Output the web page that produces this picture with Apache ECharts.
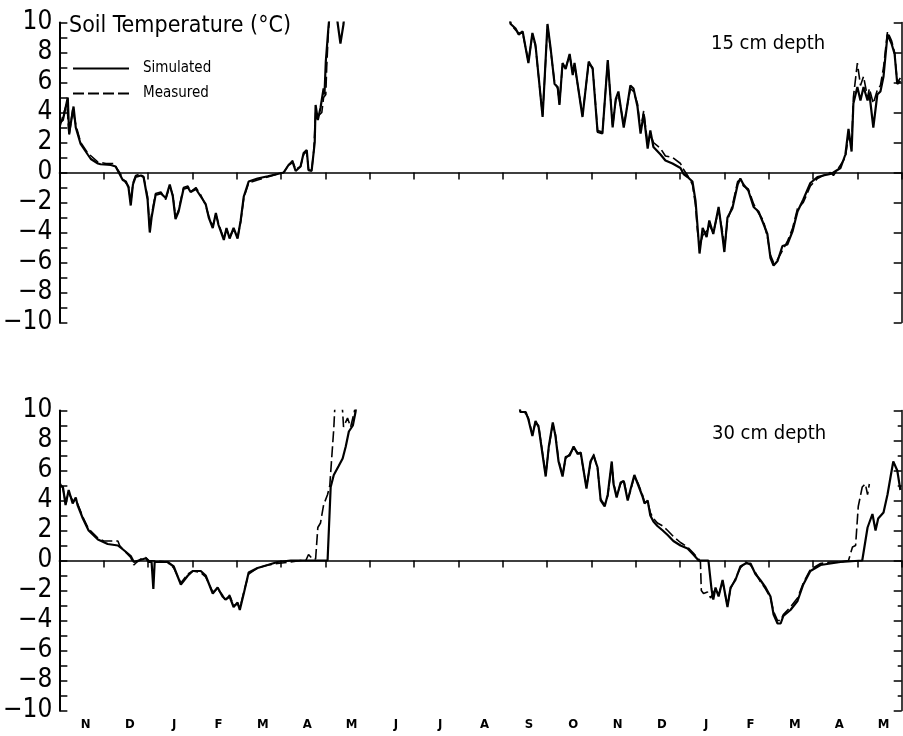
<!DOCTYPE html>
<html>
<head>
<meta charset="utf-8">
<script src="https://cdn.jsdelivr.net/npm/echarts@6/dist/echarts.min.js"></script>
<style>html,body{margin:0;padding:0;background:#fff}#c{width:903px;height:736px}</style>
</head>
<body>
<div id="c"></div>
<script>
// x values are months counted from 1 November of the first winter
const monthLabels = ['N','D','J','F','M','A','M','J','J','A','S','O','N','D','J','F','M','A','M'];
const yTicks = [-10,-8,-6,-4,-2,0,2,4,6,8,10];

// 15 cm depth – simulated
const sim15X = [0.01,0.08,0.19,0.22,0.32,0.37,0.48,0.64,0.71,0.87,0.93,1.16,1.27,1.34,1.43,1.50,1.56,1.61,1.66,1.72,1.84,1.90,1.99,2.04,2.08,2.17,2.29,2.40,2.49,2.56,2.62,2.69,2.80,2.90,2.96,3.08,3.19,3.30,3.37,3.46,3.53,3.59,3.71,3.77,3.84,3.93,4.02,4.09,4.16,4.27,4.47,4.70,4.92,5.06,5.17,5.26,5.33,5.44,5.51,5.58,5.62,5.69,5.71,5.76,5.78,5.83,5.89,5.96,5.98,6.01,6.07,6.10,6.17,6.25,6.28,6.34,6.41,6.43,6.50,10.14,10.18,10.29,10.36,10.45,10.58,10.67,10.74,10.90,10.97,11.01,11.08,11.17,11.24,11.28,11.35,11.42,11.51,11.58,11.62,11.80,11.94,12.03,12.14,12.25,12.37,12.48,12.55,12.61,12.73,12.77,12.88,12.95,13.04,13.11,13.18,13.27,13.33,13.40,13.56,13.67,13.83,14.01,14.08,14.17,14.28,14.35,14.39,14.44,14.51,14.60,14.66,14.75,14.87,14.96,15.00,15.07,15.18,15.30,15.36,15.43,15.54,15.66,15.77,15.88,15.97,16.04,16.11,16.20,16.31,16.42,16.54,16.65,16.78,16.94,17.10,17.23,17.39,17.46,17.62,17.73,17.80,17.87,17.91,18.00,18.07,18.14,18.23,18.27,18.36,18.45,18.52,18.59,18.68,18.77,18.84,18.90,18.97];
const sim15Y = [3.3,3.5,5.0,2.6,4.4,3.0,1.9,1.2,0.9,0.6,0.55,0.5,0.4,0.0,-0.5,-0.6,-1.0,-2.2,-0.8,-0.3,-0.2,-0.3,-1.8,-4.0,-3.0,-1.5,-1.4,-1.7,-0.8,-1.6,-3.1,-2.6,-1.1,-1.0,-1.3,-1.1,-1.6,-2.1,-3.0,-3.7,-2.7,-3.5,-4.5,-3.7,-4.4,-3.7,-4.4,-3.2,-1.6,-0.6,-0.4,-0.25,-0.1,0.0,0.5,0.7,0.1,0.4,1.3,1.5,0.15,0.1,0.0,2.0,4.5,3.5,4.3,5.6,5.2,7.4,9.7,10.6,null,10.6,9.9,8.6,9.9,10.6,null,10.6,9.9,9.6,9.2,9.4,7.3,9.3,8.5,3.7,7.6,9.9,8.3,5.9,5.7,4.5,7.3,6.9,7.9,6.5,7.3,3.7,7.4,6.9,2.7,2.6,7.5,3.0,4.9,5.4,3.0,3.7,5.8,5.6,4.4,2.6,3.9,1.6,2.8,1.7,1.2,0.8,0.6,0.3,-0.1,-0.3,-0.6,-1.9,-3.4,-5.4,-3.7,-4.3,-3.2,-4.1,-2.3,-4.3,-5.3,-3.0,-2.4,-0.8,-0.4,-0.8,-1.2,-2.3,-2.6,-3.4,-4.1,-5.7,-6.2,-5.9,-4.9,-4.8,-3.9,-2.6,-1.8,-0.7,-0.3,-0.2,-0.1,0.0,0.3,1.2,2.9,1.4,4.6,5.7,4.8,5.7,4.8,5.3,3.0,5.2,5.4,6.4,9.2,8.6,7.9,5.9,6.1];

// 15 cm depth – measured
const meas15X = [0.01,0.08,0.17,0.22,0.30,0.37,0.48,0.64,0.87,1.05,1.16,1.23,1.29,1.36,1.43,1.50,1.56,1.61,1.66,1.72,1.84,1.90,1.99,2.04,2.08,2.17,2.29,2.40,2.49,2.56,2.62,2.69,2.80,2.90,2.96,3.08,3.19,3.30,3.37,3.46,3.53,3.59,3.71,3.77,3.84,3.93,4.02,4.09,4.16,4.27,4.47,4.70,4.92,5.06,5.17,5.26,5.33,5.44,5.51,5.58,5.62,5.69,5.74,5.78,5.85,5.92,5.96,6.01,6.03,6.07,6.10,6.17,10.14,10.18,10.29,10.36,10.45,10.58,10.67,10.74,10.90,10.97,11.01,11.08,11.17,11.24,11.28,11.35,11.42,11.51,11.58,11.62,11.80,11.94,12.03,12.14,12.25,12.37,12.48,12.55,12.61,12.73,12.77,12.88,12.95,13.04,13.11,13.18,13.27,13.33,13.40,13.56,13.67,13.83,14.01,14.08,14.17,14.28,14.35,14.39,14.44,14.51,14.60,14.66,14.75,14.87,14.96,15.00,15.07,15.18,15.30,15.36,15.43,15.54,15.66,15.77,15.88,15.97,16.04,16.11,16.20,16.31,16.42,16.54,16.65,16.78,16.94,17.10,17.23,17.39,17.46,17.62,17.73,17.80,17.87,17.91,18.00,18.07,18.14,18.23,18.27,18.36,18.45,18.52,18.59,18.68,18.77,18.84,18.90,18.97];
const meas15Y = [3.0,3.8,4.6,2.4,4.2,3.2,2.0,1.3,0.7,0.6,0.6,0.6,0.3,0.0,-0.4,-0.7,-0.9,-2.0,-0.7,-0.2,-0.1,-0.3,-1.6,-3.8,-2.8,-1.4,-1.3,-1.8,-0.9,-1.5,-3.0,-2.5,-1.0,-0.9,-1.3,-1.0,-1.5,-2.2,-2.9,-3.6,-2.8,-3.4,-4.4,-3.8,-4.3,-3.8,-4.3,-3.3,-1.7,-0.7,-0.5,-0.3,-0.1,0.0,0.5,0.8,0.2,0.4,1.2,1.4,0.2,0.1,1.5,4.0,3.8,4.0,5.0,5.2,7.0,9.5,10.6,null,10.6,9.9,9.5,9.3,9.3,7.4,9.2,8.4,3.8,7.5,9.8,8.2,6.0,5.6,4.6,7.2,7.0,7.8,6.6,7.2,3.8,7.3,7.0,2.8,2.7,7.4,3.1,4.8,5.2,3.2,3.8,5.6,5.4,4.6,2.8,4.1,1.9,2.6,2.0,1.6,1.1,1.0,0.6,0.2,-0.2,-0.8,-2.2,-3.8,-5.0,-4.2,-3.9,-3.5,-4.0,-2.5,-4.0,-5.1,-3.2,-2.2,-0.6,-0.5,-0.9,-1.1,-2.1,-2.7,-3.2,-4.3,-5.5,-6.0,-5.8,-5.2,-4.6,-3.7,-2.4,-2.0,-0.9,-0.4,-0.2,0.0,-0.2,0.5,1.0,2.5,1.8,5.0,7.3,5.8,6.4,5.0,5.6,4.6,5.5,5.8,7.0,9.4,8.8,8.0,6.0,6.3];

// 30 cm depth – simulated
const sim30X = [0.01,0.08,0.14,0.21,0.30,0.37,0.41,0.53,0.66,0.87,1.09,1.32,1.45,1.61,1.68,1.79,1.95,2.02,2.08,2.12,2.15,2.44,2.58,2.74,2.90,3.01,3.19,3.30,3.46,3.57,3.68,3.75,3.84,3.93,4.02,4.07,4.16,4.27,4.47,4.70,4.92,5.22,6.05,6.12,6.19,6.30,6.39,6.46,6.53,6.62,6.68,6.71,6.80,10.36,10.40,10.52,10.58,10.67,10.74,10.81,10.97,11.04,11.13,11.19,11.26,11.35,11.42,11.51,11.60,11.69,11.76,11.89,11.98,12.05,12.14,12.21,12.30,12.37,12.46,12.50,12.57,12.66,12.73,12.82,12.88,12.97,13.06,13.15,13.20,13.27,13.33,13.40,13.49,13.61,13.72,13.85,14.01,14.17,14.30,14.42,14.64,14.71,14.75,14.80,14.87,14.96,15.07,15.14,15.25,15.36,15.48,15.59,15.70,15.81,15.93,16.04,16.11,16.20,16.27,16.33,16.49,16.65,16.78,16.94,17.17,17.39,17.62,18.11,18.14,18.23,18.34,18.41,18.47,18.59,18.68,18.75,18.81,18.90,18.97];
const sim30Y = [5.0,4.9,3.7,4.7,3.8,4.2,3.7,2.8,2.0,1.4,1.1,1.0,0.7,0.3,-0.1,0.0,0.15,-0.1,-0.1,-1.9,-0.1,-0.1,-0.4,-1.6,-1.0,-0.7,-0.7,-1.0,-2.2,-1.8,-2.4,-2.6,-2.4,-3.1,-2.8,-3.3,-2.2,-0.8,-0.5,-0.3,-0.1,0.0,0.0,4.9,5.7,6.3,6.8,7.6,8.6,9.0,9.9,10.6,null,10.6,9.9,9.9,9.4,8.3,9.3,8.9,5.6,7.6,9.2,8.3,6.6,5.6,6.9,7.0,7.6,7.1,7.2,4.8,6.6,7.0,6.2,4.0,3.6,4.4,6.6,5.1,4.2,5.2,5.3,4.0,4.7,5.7,5.0,4.3,3.8,4.0,3.0,2.6,2.3,2.0,1.7,1.3,1.0,0.8,0.4,0.0,0.0,-1.9,-2.6,-1.8,-2.4,-1.3,-3.1,-1.8,-1.3,-0.4,-0.2,-0.2,-0.9,-1.3,-1.8,-2.4,-3.6,-4.2,-4.2,-3.7,-3.3,-2.7,-1.6,-0.7,-0.3,-0.2,-0.1,0.0,0.0,2.2,3.1,2.0,2.8,3.2,4.4,5.6,6.6,6.0,4.7];

// 30 cm depth – measured
const meas30X = [0.01,0.08,0.14,0.21,0.30,0.37,0.41,0.53,0.66,0.87,1.00,1.09,1.20,1.32,1.36,1.45,1.61,1.68,1.75,1.84,1.95,2.02,2.44,2.58,2.74,2.90,3.01,3.19,3.30,3.46,3.57,3.68,3.75,3.84,3.93,4.02,4.07,4.16,4.27,4.47,4.70,4.92,5.22,5.44,5.56,5.62,5.71,5.78,5.83,5.89,5.96,6.05,6.10,6.14,6.19,6.21,6.23,6.30,6.37,6.39,6.41,6.50,6.57,6.66,6.68,6.75,10.36,10.40,10.52,10.58,10.67,10.74,10.81,10.97,11.04,11.13,11.19,11.26,11.35,11.42,11.51,11.60,11.69,11.76,11.89,11.98,12.05,12.14,12.21,12.30,12.37,12.46,12.50,12.57,12.66,12.73,12.82,12.88,12.97,13.06,13.15,13.20,13.27,13.33,13.40,13.49,13.61,13.72,13.85,14.01,14.17,14.30,14.42,14.46,14.48,14.53,14.62,14.69,14.80,14.87,14.96,15.07,15.14,15.25,15.36,15.48,15.59,15.70,15.81,15.93,16.04,16.11,16.20,16.27,16.33,16.49,16.65,16.78,16.94,17.17,17.39,17.62,17.80,17.89,17.96,18.02,18.11,18.18,18.23,18.27];
const meas30Y = [5.2,4.8,3.9,4.5,4.0,4.0,3.8,2.9,2.1,1.5,1.3,1.3,1.3,1.3,1.0,0.7,0.2,-0.3,-0.1,0.1,0.2,0.0,-0.1,-0.5,-1.5,-0.9,-0.7,-0.8,-1.1,-2.1,-1.9,-2.3,-2.7,-2.3,-3.0,-2.9,-3.2,-2.1,-0.9,-0.5,-0.3,-0.2,-0.1,0.0,0.0,0.4,0.1,0.1,2.2,2.5,3.7,4.4,5.0,6.7,8.8,10.0,10.6,null,10.6,9.9,8.9,9.5,8.9,10.0,10.6,null,10.6,9.9,9.8,9.5,8.4,9.2,9.0,5.7,7.5,9.1,8.4,6.7,5.7,6.8,7.1,7.5,7.2,7.1,4.9,6.5,7.1,6.1,4.1,3.7,4.3,6.5,5.2,4.3,5.1,5.4,4.1,4.6,5.6,5.1,4.4,3.9,3.9,3.2,2.8,2.5,2.3,2.0,1.6,1.2,0.9,0.5,0.1,-0.1,-2.0,-2.2,-2.1,-2.5,-1.9,-2.3,-1.4,-3.0,-1.9,-1.2,-0.5,-0.1,-0.3,-0.8,-1.4,-1.9,-2.5,-3.4,-4.0,-4.0,-3.6,-3.1,-2.5,-1.5,-0.6,-0.2,-0.1,-0.1,0.0,0.9,1.0,3.6,4.9,5.1,4.4,5.1];

function pairs(xs, ys) {
  return xs.map((x, i) => [x, ys[i] === null ? '-' : ys[i]]);
}

const FONT = 'DejaVu Sans Condensed, DejaVu Sans, sans-serif';
const BLACK = '#000';

function leftY(grid) {
  return {
    type: 'value', gridIndex: grid, position: 'left', min: -10, max: 10, interval: 1,
    axisLine: { show: true, lineStyle: { color: BLACK, width: 2 } },
    axisTick: { show: true, inside: true, length: 8, lineStyle: { color: BLACK, width: 1.5 } },
    axisLabel: {
      show: true, margin: 7, color: BLACK, fontFamily: FONT, fontSize: 26,
      formatter: v => yTicks.indexOf(v) === -1 ? '' : (v < 0 ? '\u2212' + (-v) : String(v))
    },
    splitLine: { show: false }
  };
}
function rightY(grid, interval, minor) {
  return {
    type: 'value', gridIndex: grid, position: 'right', min: -10, max: 10, interval: interval,
    axisLine: { show: true, lineStyle: { color: BLACK, width: 1.5 } },
    axisTick: { show: true, inside: true, length: 8, lineStyle: { color: BLACK, width: 1.5 } },
    minorTick: { show: minor, splitNumber: 2, length: 4, lineStyle: { color: BLACK, width: 1.5 } },
    axisLabel: { show: false },
    splitLine: { show: false }
  };
}
function monthX(grid) {
  return {
    type: 'value', gridIndex: grid, min: 0, max: 19, interval: 1,
    axisLine: { show: true, onZero: true, lineStyle: { color: BLACK, width: 1.5 } },
    axisTick: { show: true, inside: false, length: 7, lineStyle: { color: BLACK, width: 1.5 } },
    axisLabel: { show: false },
    splitLine: { show: false }
  };
}
function lineSeries(name, data, xi, yi, dashed) {
  return {
    name: name, type: 'line', xAxisIndex: xi, yAxisIndex: yi,
    data: data, symbol: 'none', showSymbol: false, clip: true,
    connectNulls: false, animation: false,
    lineStyle: dashed ? { color: BLACK, width: 1.6, type: [11, 4] } : { color: BLACK, width: 2.2 },
    itemStyle: { color: BLACK },
    z: dashed ? 3 : 2
  };
}

const chart = echarts.init(document.getElementById('c'), null, { renderer: 'canvas' });
chart.setOption({
  backgroundColor: '#fff',
  animation: false,
  title: [
    { text: 'Soil Temperature (\u00b0C)', left: 69, top: 15, padding: 0,
      textStyle: { fontFamily: FONT, fontSize: 23, fontWeight: 'normal', color: BLACK } },
    { text: '15 cm depth', left: 711, top: 34, padding: 0,
      textStyle: { fontFamily: FONT, fontSize: 20, fontWeight: 'normal', color: BLACK } },
    { text: '30 cm depth', left: 712, top: 424, padding: 0,
      textStyle: { fontFamily: FONT, fontSize: 20, fontWeight: 'normal', color: BLACK } }
  ],
  legend: {
    orient: 'vertical', left: 72, top: 61, padding: 0,
    itemWidth: 56, itemHeight: 14, itemGap: 10,
    data: ['Simulated', 'Measured'],
    itemStyle: { opacity: 0, borderWidth: 0 },
    textStyle: { fontFamily: FONT, fontSize: 15, color: BLACK, padding: [0, 0, 0, 9] }
  },
  grid: [
    { left: 59, top: 22.5, width: 842.7, height: 300 },
    { left: 59, top: 410.5, width: 842.7, height: 300 }
  ],
  xAxis: [
    monthX(0),
    monthX(1),
    {
      type: 'category', gridIndex: 1, data: monthLabels, position: 'bottom', boundaryGap: true,
      axisLine: { show: false, onZero: false }, axisTick: { show: false },
      axisLabel: { show: true, interval: 0, margin: 8, color: BLACK, fontFamily: FONT,
        fontSize: 13, fontWeight: 'bold', padding: [0, 0, 0, 8] },
      splitLine: { show: false }
    }
  ],
  yAxis: [leftY(0), rightY(0, 2, false), leftY(1), rightY(1, 2, true)],
  series: [
    lineSeries('Simulated', pairs(sim15X, sim15Y), 0, 0, false),
    lineSeries('Measured', pairs(meas15X, meas15Y), 0, 0, true),
    lineSeries('Simulated', pairs(sim30X, sim30Y), 1, 2, false),
    lineSeries('Measured', pairs(meas30X, meas30Y), 1, 2, true)
  ]
});
</script>
</body>
</html>
